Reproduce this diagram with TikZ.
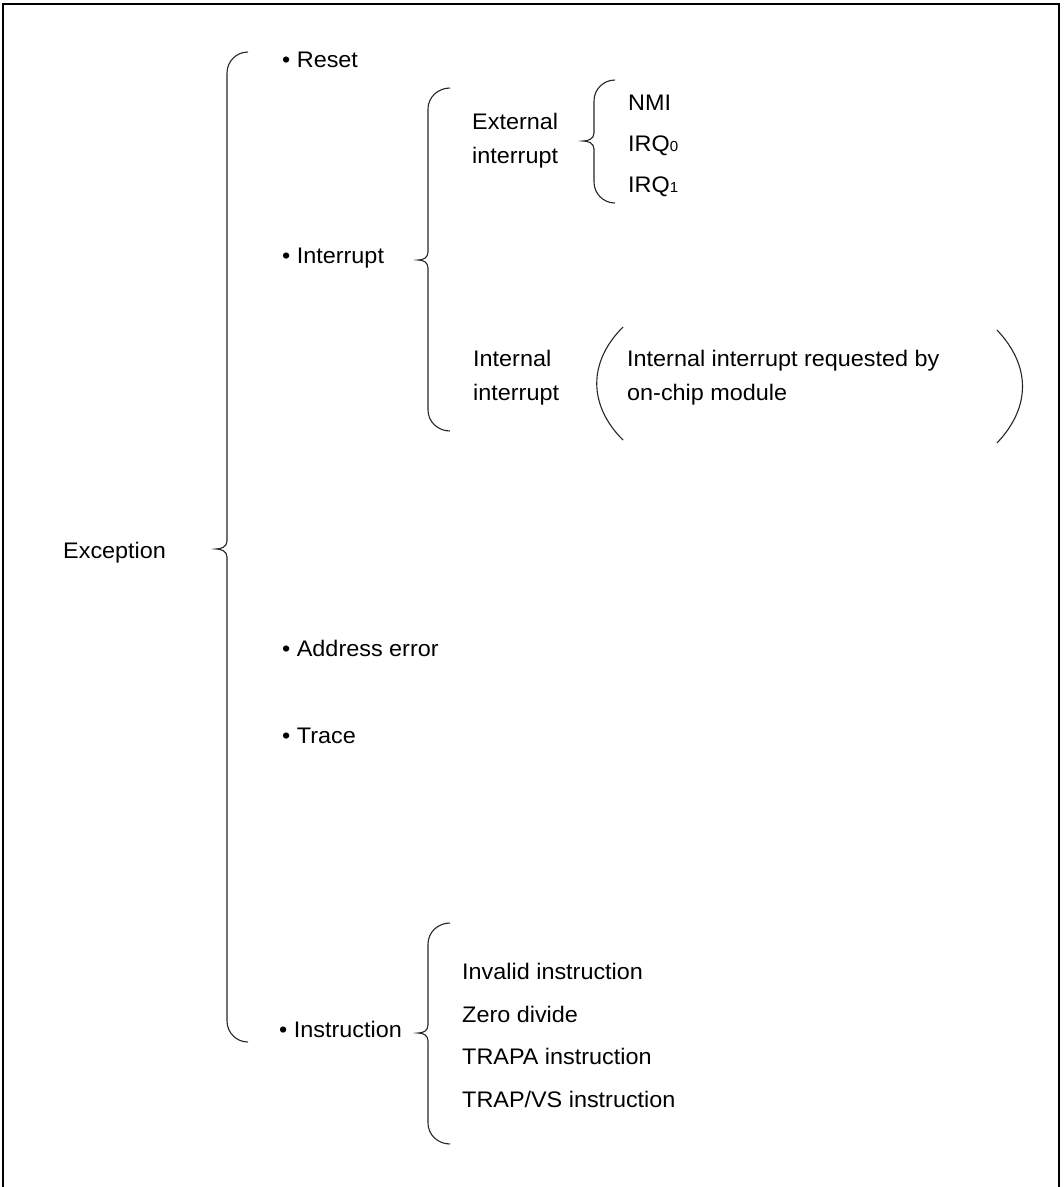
\documentclass[tikz,border=0pt]{standalone}
\usepackage{fontspec}
\setmainfont{Liberation Sans}[FakeStretch=1.04]
\begin{document}
\begin{tikzpicture}[x=1pt,y=-1pt,
  lbl/.style={anchor=base west,inner sep=0pt,font=\fontsize{22.5}{34}\selectfont},
  brace/.style={line width=1.1pt,black!85},
  paren/.style={line width=1.1pt,black!85},
  frame/.style={line width=2pt,black}]
\useasboundingbox (0,0) rectangle (1064,1187);
% frame (bottom edge lies outside the picture)
\draw[frame] (3,1192) -- (3,4) -- (1059,4) -- (1059,1192);
% braces
\newcommand{\mybrace}[6]{% xe, xv, yt, xc, yc, yb
  \draw[brace] (#1,#3) to[out=180,in=90] (#2,#3+21) -- (#2,#5-8)
    .. controls (#2,#5-2) and (#4+5,#5) .. (#4,#5)
    .. controls (#4+5,#5) and (#2,#5+2) .. (#2,#5+8)
    -- (#2,#6-21) to[out=-90,in=180] (#1,#6);}
\mybrace{248}{227}{52}{216}{549}{1042}
\mybrace{450}{428}{88}{418}{260}{431}
\mybrace{615}{594}{80}{583}{141}{203}
\mybrace{450}{428}{923}{418}{1033}{1144}
% parentheses
\draw[paren] (623,327) .. controls (588,362) and (588,405) .. (623,440);
\draw[paren] (997,330) .. controls (1031,366) and (1031,407) .. (997,443);
% labels
\node[lbl] (exc) at (63,558) {Exception};
\node[lbl] (reset) at (282,67) {\textbullet\ Reset};
\node[lbl] (intr) at (282,263) {\textbullet\ Interrupt};
\node[lbl] (addr) at (282,656) {\textbullet\ Address error};
\node[lbl] (trace) at (282,743) {\textbullet\ Trace};
\node[lbl] (instr) at (279,1037) {\textbullet\ Instruction};
\node[lbl] (ext1) at (472,129) {External};
\node[lbl] (ext2) at (472,163) {interrupt};
\node[lbl] (nmi) at (628,110) {NMI};
\node[lbl] (irq0) at (628,151) {IRQ{\fontsize{14.5}{14}\selectfont 0}};
\node[lbl] (irq1) at (628,192) {IRQ{\fontsize{14.5}{14}\selectfont 1}};
\node[lbl] (int1) at (473,366) {Internal};
\node[lbl] (int2) at (473,400) {interrupt};
\node[lbl] (req1) at (627,366) {Internal interrupt requested by};
\node[lbl] (req2) at (627,400) {on-chip module};
\node[lbl] (inv) at (462,979) {Invalid instruction};
\node[lbl] (zero) at (462,1022) {Zero divide};
\node[lbl] (trapa) at (462,1064) {TRAPA instruction};
\node[lbl] (trapvs) at (462,1107) {TRAP/VS instruction};
\end{tikzpicture}
\end{document}
